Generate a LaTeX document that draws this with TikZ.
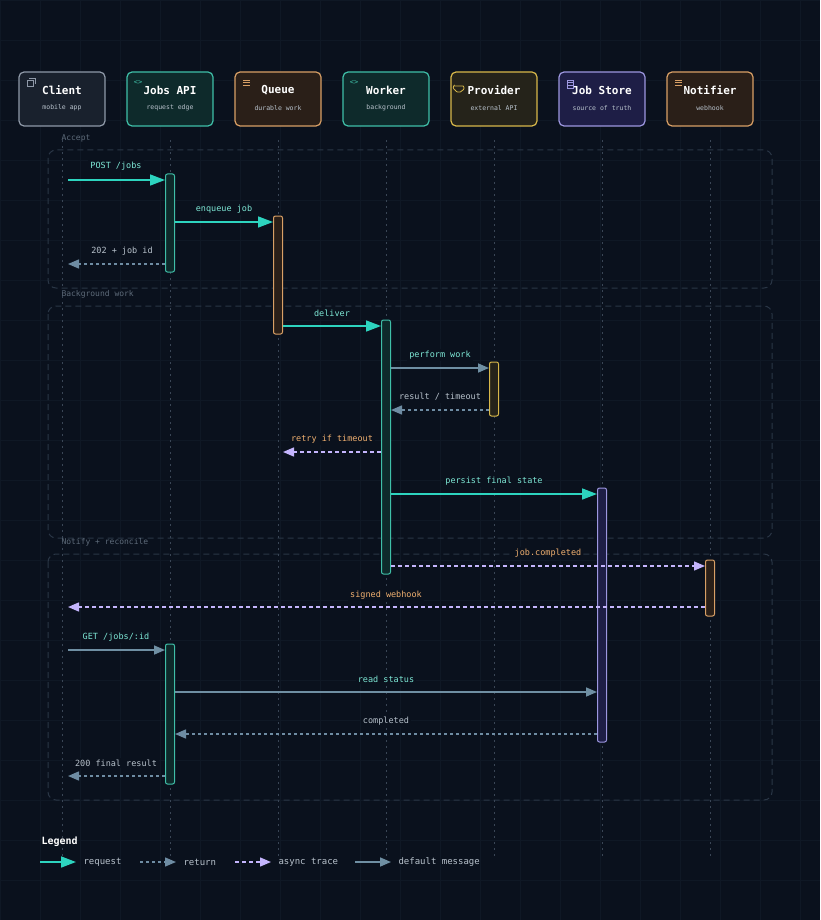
\documentclass[tikz,border=0pt]{standalone}
\usepackage{fontspec}
\setmainfont{DejaVu Sans Mono}
\usetikzlibrary{arrows.meta}
\definecolor{bg}{HTML}{0A111D}
\definecolor{gridc}{HTML}{0F1825}
\definecolor{teal}{HTML}{2DD4BF}
\definecolor{ret}{HTML}{6E8CA3}
\definecolor{async}{HTML}{C4B5FD}
\definecolor{defm}{HTML}{6F8FA3}
\definecolor{orangel}{HTML}{F0B070}
\definecolor{grayl}{HTML}{B8C2CC}
\definecolor{tealt}{HTML}{7EE8D6}
\definecolor{life}{HTML}{3A4656}
\definecolor{grp}{HTML}{2A3646}
\definecolor{grpt}{HTML}{5E6B7A}
\definecolor{fc}{HTML}{19212D}\definecolor{fa}{HTML}{0E2A2B}\definecolor{fq}{HTML}{2A1F18}
\definecolor{fp}{HTML}{25231A}\definecolor{fs}{HTML}{1E1E46}
\definecolor{bc}{HTML}{8F99A8}\definecolor{ba}{HTML}{3FBFA8}\definecolor{bq}{HTML}{D9A066}
\definecolor{bp}{HTML}{D8B84A}\definecolor{bs}{HTML}{9D97E0}
\begin{document}
\begin{tikzpicture}[x=1pt,y=-1pt,
  hdr/.style={draw=#1,line width=1.2pt,rounded corners=5pt,minimum width=86pt,minimum height=54pt,inner sep=0pt},
  ttl/.style={font=\bfseries\fontsize{11}{11}\selectfont,text=white},
  sub/.style={font=\fontsize{6.5}{6.5}\selectfont,text=grayl},
  lifeline/.style={draw=life,line width=1pt,dash pattern=on 2pt off 4pt},
  act/.style={draw=#1,line width=1pt,rounded corners=2pt,minimum width=9pt,inner sep=0pt},
  grpbox/.style={draw=grp,line width=1pt,dash pattern=on 6pt off 4pt,rounded corners=8pt},
  grplab/.style={font=\fontsize{8}{8}\selectfont,text=grpt,anchor=west},
  req/.style={draw=teal,line width=1.6pt,-{Triangle[length=15pt,width=11pt]}},
  retm/.style={draw=ret,line width=1.4pt,dash pattern=on 3pt off 3pt,-{Triangle[length=11pt,width=9pt]}},
  asy/.style={draw=async,line width=1.4pt,dash pattern=on 4pt off 3pt,-{Triangle[length=11pt,width=9pt]}},
  dm/.style={draw=defm,line width=1.6pt,-{Triangle[length=11pt,width=9pt]}},
  lab/.style={font=\fontsize{8.5}{8.5}\selectfont,text=#1,fill=bg,inner sep=2pt},
  leg/.style={anchor=west,font=\fontsize{9}{9}\selectfont,text=grayl},
]
\useasboundingbox (0,0) rectangle (820,920);
\fill[bg] (0,0) rectangle (820,920);
\foreach \g in {0,40,...,820} \draw[gridc,line width=0.5pt] (\g,0) -- (\g,920);
\foreach \g in {0,40,...,920} \draw[gridc,line width=0.5pt] (0,\g) -- (820,\g);

% groups
\draw[grpbox] (48,150) rectangle (772,288);
\node[grplab] (gA) at (58,138) {Accept};
\draw[grpbox] (48,306) rectangle (772,538);
\node[grplab] (gB) at (58,294) {Background work};
\draw[grpbox] (48,554) rectangle (772,800);
\node[grplab] (gC) at (58,542) {Notify + reconcile};

% lifelines
\foreach \x/\n in {62/c,170/a,278/q,386/w,494/p,602/s,710/n}{
  \coordinate (t\n) at (\x,140);
  \coordinate (b\n) at (\x,858);
  \draw[lifeline] (t\n) -- (b\n);
}

% headers
\node[hdr=bc,fill=fc] (hc) at (62,99) {};
\node[hdr=ba,fill=fa] (ha) at (170,99) {};
\node[hdr=bq,fill=fq] (hq) at (278,99) {};
\node[hdr=ba,fill=fa] (hw) at (386,99) {};
\node[hdr=bp,fill=fp] (hp) at (494,99) {};
\node[hdr=bs,fill=fs] (hs) at (602,99) {};
\node[hdr=bq,fill=fq] (hn) at (710,99) {};
\foreach \n/\t/\s in {c/Client/mobile app,a/Jobs API/request edge,q/Queue/durable work,w/Worker/background,p/Provider/external API,s/Job Store/source of truth,n/Notifier/webhook}{
  \node[ttl] at ([yshift=9pt]h\n.center) {\t};
  \node[sub] at ([yshift=-9pt]h\n.center) {\s};
}
% icons
\draw[bc,line width=0.8pt] (27,80) rectangle (33,86); \draw[bc,line width=0.8pt] (29,78) -- (35,78) -- (35,84);
\node[font=\fontsize{7}{7}\selectfont,text=ba,inner sep=0pt] at (138,83) {<>};
\node[font=\fontsize{7}{7}\selectfont,text=ba,inner sep=0pt] at (354,83) {<>};
\foreach \xx in {243,675}{\foreach \yy in {80,82.5,85} \draw[bq,line width=0.9pt] (\xx,\yy) -- ++(7,0);}
\draw[bp,line width=0.8pt,rounded corners=1pt] (453,86) -- (462,86) arc[start angle=-90,end angle=90,radius=2] arc[start angle=20,end angle=170,radius=3.5] arc[start angle=90,end angle=270,radius=2] -- cycle;
\draw[bs,line width=0.8pt] (567,80) rectangle (573,88); \draw[bs,line width=0.6pt] (567,82.7)--(573,82.7) (567,85.3)--(573,85.3);

% activations
\node[act=ba,fill=fa,minimum height=98pt] (a1) at (170,223) {};
\node[act=bq,fill=fq,minimum height=118pt] (q1) at (278,275) {};
\node[act=ba,fill=fa,minimum height=254pt] (w1) at (386,447) {};
\node[act=bp,fill=fp,minimum height=54pt] (p1) at (494,389) {};
\node[act=bs,fill=fs,minimum height=254pt] (s1) at (602,615) {};
\node[act=bq,fill=fq,minimum height=56pt] (n1) at (710,588) {};
\node[act=ba,fill=fa,minimum height=140pt] (a2) at (170,714) {};

% messages
\coordinate (m1s) at (68,180);
\draw[req] (m1s) -- (a1.west|-m1s);
\node[lab=tealt] at (116,166) {POST /jobs};
\draw[req] (a1.east|-0,222) -- (q1.west|-0,222);
\node[lab=tealt] at (224,209) {enqueue job};
\coordinate (m3e) at (68,264);
\draw[retm] (a1.west|-m3e) -- (m3e);
\node[lab=grayl] at (122,251) {202 + job id};
\draw[req] (q1.east|-0,326) -- (w1.west|-0,326);
\node[lab=tealt] at (332,313) {deliver};
\draw[dm] (w1.east|-0,368) -- (p1.west|-0,368);
\node[lab=tealt] at (440,355) {perform work};
\draw[retm] (p1.west|-0,410) -- (w1.east|-0,410);
\node[lab=grayl] at (440,397) {result / timeout};
\coordinate (m7e) at (283,452);
\draw[asy] (w1.west|-m7e) -- (m7e);
\node[lab=orangel] at (332,439) {retry if timeout};
\draw[req] (w1.east|-0,494) -- (s1.west|-0,494);
\node[lab=tealt] at (494,481) {persist final state};
\draw[asy] (w1.east|-0,566) -- (n1.west|-0,566);
\node[lab=orangel] at (548,553) {job.completed};
\coordinate (m10e) at (68,607);
\draw[asy] (n1.west|-m10e) -- (m10e);
\node[lab=orangel] at (386,595) {signed webhook};
\coordinate (m11s) at (68,650);
\draw[dm] (m11s) -- (a2.west|-m11s);
\node[lab=tealt] at (116,637) {GET /jobs/:id};
\draw[dm] (a2.east|-0,692) -- (s1.west|-0,692);
\node[lab=tealt] at (386,679) {read status};
\draw[retm] (s1.west|-0,734) -- (a2.east|-0,734);
\node[lab=grayl] at (386,721) {completed};
\coordinate (m14e) at (68,776);
\draw[retm] (a2.west|-m14e) -- (m14e);
\node[lab=grayl] at (116,763) {200 final result};

% legend
\node[anchor=west,font=\bfseries\fontsize{10}{10}\selectfont,text=white] (lg) at (38,842) {Legend};
\coordinate (l1a) at (40,862); \coordinate (l1b) at (76,862);
\draw[req] (l1a) -- (l1b);
\node[leg] at (80,862) {request};
\coordinate (l2a) at (140,862); \coordinate (l2b) at (176,862);
\draw[retm] (l2a) -- (l2b);
\node[leg] at (180,862) {return};
\coordinate (l3a) at (235,862); \coordinate (l3b) at (271,862);
\draw[asy] (l3a) -- (l3b);
\node[leg] at (275,862) {async trace};
\coordinate (l4a) at (355,862); \coordinate (l4b) at (391,862);
\draw[dm] (l4a) -- (l4b);
\node[leg] at (395,862) {default message};
\end{tikzpicture}
\end{document}
